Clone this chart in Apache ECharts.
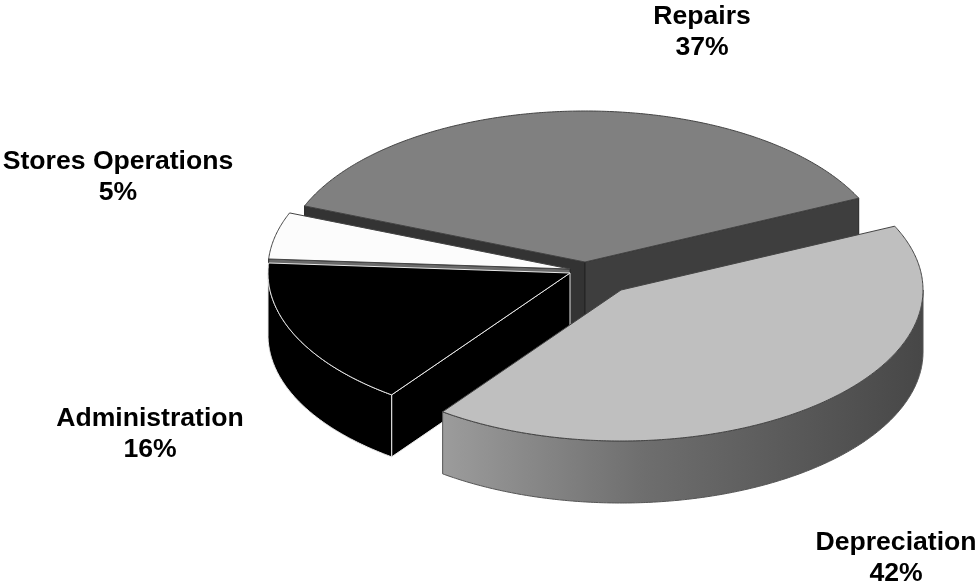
<!DOCTYPE html>
<html>
<head>
<meta charset="utf-8">
<style>html,body{margin:0;padding:0;background:#fff}#c{width:977px;height:582px}</style>
<script src="https://cdn.jsdelivr.net/npm/echarts@6/dist/echarts.min.js"></script>
</head>
<body>
<div id="c"></div>
<script>
// Data, clockwise from the start angle
const categories = ['Depreciation', 'Administration', 'Stores Operations', 'Repairs'];
const shares = [42, 16, 5, 37];

// Layout and style
const START_ANGLE = 25, RX = 302, RY = 151, DEPTH = 62;
const centers = { 'Depreciation': [621, 290], 'Administration': [570, 273], 'Stores Operations': [570, 269], 'Repairs': [585, 262] };
const depths = { 'Depreciation': DEPTH, 'Administration': DEPTH, 'Stores Operations': DEPTH, 'Repairs': DEPTH + 3 };
const labelPos = { 'Depreciation': [896, 542], 'Administration': [150, 418], 'Stores Operations': [118, 161], 'Repairs': [702, 16] };
const drawOrder = ['Repairs', 'Stores Operations', 'Administration', 'Depreciation'];
const looks = {
  'Repairs': { top: '#808080', line: '#444444', width: 1, startFace: '#333333', endFace: '#3e3e3e', wall: '#404040' },
  'Stores Operations': { top: '#fcfcfc', line: '#444444', width: 1, startFace: '#6a6a6a', endFace: null, wall: '#000000' },
  'Administration': { top: '#000000', line: '#e8e8e8', width: 1, startFace: '#000000', endFace: null, wall: '#000000' },
  'Depreciation': { top: '#bfbfbf', line: '#444444', width: 1, startFace: null, endFace: null, wall: null }
};

const total = shares.reduce((a, b) => a + b, 0);
const angles = {};
let running = START_ANGLE;
categories.forEach((c, i) => {
  const sweep = shares[i] / total * 360;
  angles[c] = [running, running - sweep];
  running -= sweep;
});
const rad = d => d * Math.PI / 180;
const pt = (c, a, dy) => [c[0] + RX * Math.cos(rad(a)), c[1] - RY * Math.sin(rad(a)) + (dy || 0)];
function arc(c, a0, a1, dy) {
  const n = Math.max(2, Math.ceil(Math.abs(a0 - a1) * 2)), out = [];
  for (let i = 0; i <= n; i++) out.push(pt(c, a0 + (a1 - a0) * i / n, dy));
  return out;
}

function renderItem(params) {
  const name = drawOrder[params.dataIndex];
  const i = categories.indexOf(name);
  const c = centers[name], L = looks[name], D = depths[name];
  const [a0, a1] = angles[name];
  const kids = [];
  const poly = (points, fill, stroke, width) => kids.push({
    type: 'polygon', shape: { points },
    style: { fill, stroke: stroke || null, lineWidth: width || 0, lineJoin: 'round' }
  });
  const face = (a, fill) => {
    if (!fill) return;
    const p = pt(c, a);
    poly([c, p, [p[0], p[1] + D], [c[0], c[1] + D]], fill, name === 'Administration' ? L.line : '#222222', 1);
  };
  face(a0, L.startFace);
  face(a1, L.endFace);
  // The outer wall shows only on the front half of the ellipse (sin < 0)
  const segs = [];
  for (let k = Math.ceil(a1 / 360 - 1); k <= Math.floor(a0 / 360) + 1; k++) {
    const lo = Math.max(a1, 360 * k - 180), hi = Math.min(a0, 360 * k);
    if (hi > lo) segs.push([hi, lo]);
  }
  segs.forEach(([hi, lo]) => {
    const top = arc(c, hi, lo), bot = arc(c, hi, lo, D).reverse();
    const wallFill = L.wall || new echarts.graphic.LinearGradient(0, 0, 1, 0, [
      { offset: 0, color: '#9c9c9c' }, { offset: 0.42, color: '#6e6e6e' }, { offset: 1, color: '#474747' }
    ]);
    poly(top.concat(bot), wallFill, name === 'Administration' ? L.line : '#555555', 1);
  });
  poly([c].concat(arc(c, a0, a1)), L.top, L.line, L.width);
  const lp = labelPos[name];
  kids.push({
    type: 'text', z2: 100,
    style: {
      text: name + '\n' + shares[i] + '%', x: lp[0], y: lp[1] - 15,
      font: 'bold 26.6px "Liberation Sans", Arial, sans-serif',
      fill: '#000', align: 'center', verticalAlign: 'top', lineHeight: 31
    }
  });
  return { type: 'group', children: kids };
}

const chart = echarts.init(document.getElementById('c'), null, { renderer: 'canvas' });
chart.setOption({
  animation: false,
  backgroundColor: '#ffffff',
  series: [{
    type: 'custom',
    coordinateSystem: 'none',
    silent: true,
    renderItem,
    data: drawOrder.map(n => [shares[categories.indexOf(n)]])
  }]
});
</script>
</body>
</html>
